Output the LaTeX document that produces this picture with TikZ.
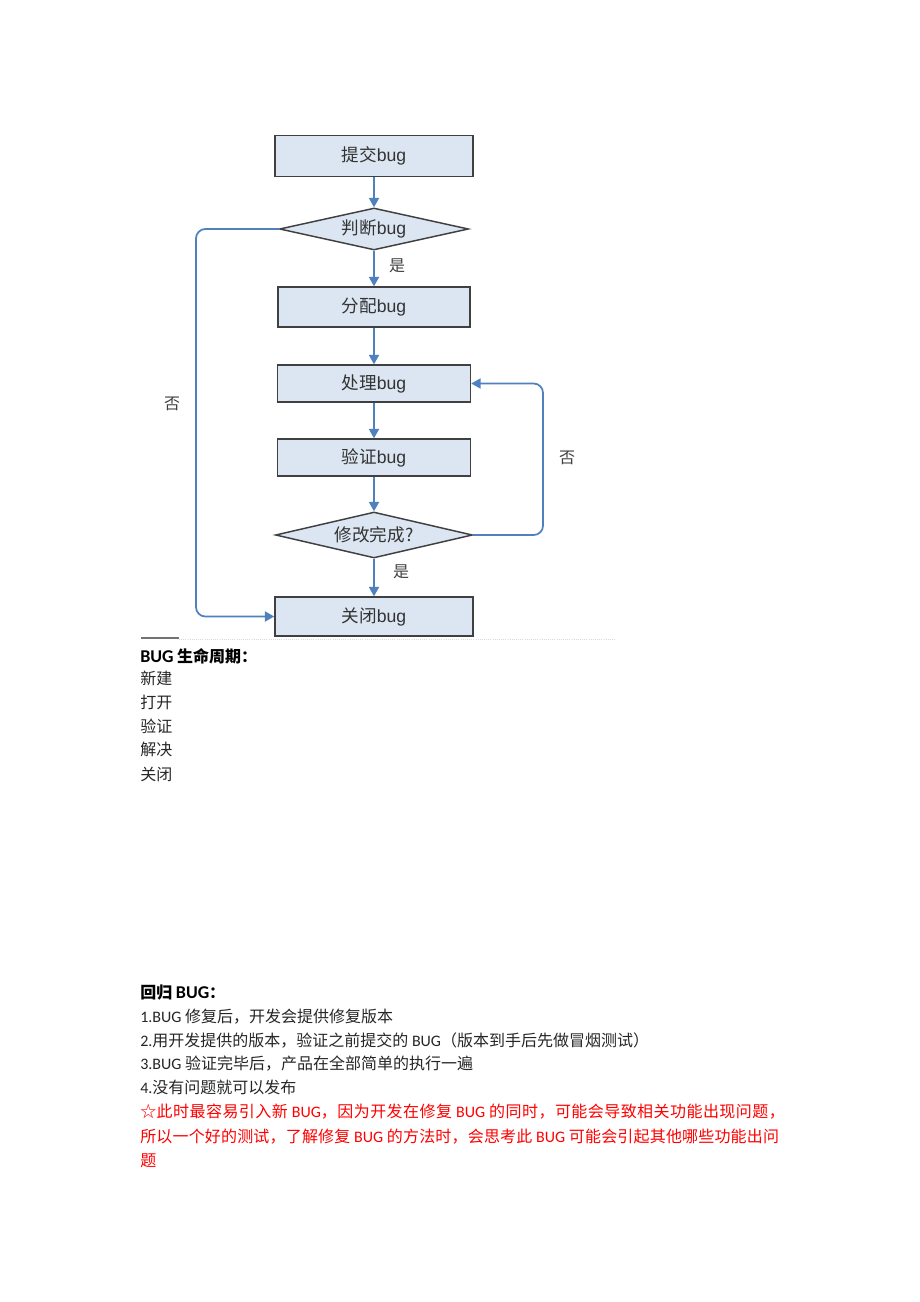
\documentclass[tikz,border=0pt]{standalone}
\usepackage{fontspec}
\setmainfont{Carlito}
\newfontfamily\cjk{Noto Sans CJK SC}
\newfontfamily\arial{Liberation Sans}
\usetikzlibrary{arrows.meta,shapes.geometric}

\definecolor{flowblue}{HTML}{4F81BD}
\definecolor{boxfill}{HTML}{DCE6F2}
\definecolor{boxline}{HTML}{404040}
\definecolor{warnred}{HTML}{FF0000}

\newcommand\lat[1]{{\rmfamily #1}}
\newcommand\bigbug{{\rmfamily\fontsize{13.5}{14}\selectfont BUG}}
\newcommand\bugword{{\arial bug}}

\tikzset{
  stepbox/.style={draw=boxline, line width=1.1pt, fill=boxfill, inner sep=0pt,
    text=black!80, font=\cjk\fontsize{13.2}{15}\selectfont},
  choice/.style={stepbox, diamond, aspect=4.5},
  flow/.style={draw=flowblue, line width=1.3pt, -{Triangle[width=7.5pt,length=7pt]}},
  loopflow/.style={flow, rounded corners=7pt},
  tag/.style={inner sep=0pt, text=black!75, font=\cjk\fontsize{12}{14}\selectfont},
  para/.style={anchor=base west, inner sep=0pt, text=black!85,
    font=\cjk\fontsize{12}{14}\selectfont},
  headline/.style={para, text=black, font=\cjk\bfseries\fontsize{12}{14}\selectfont},
}

\begin{document}
\begin{tikzpicture}[x=0.75pt, y=-0.75pt]
		%%%%% START %%%%%
		\useasboundingbox[fill=white] (0,0) rectangle (920,1302);
		
		% flow chart
		\node[stepbox, minimum width=148.5pt, minimum height=30.75pt] (submit) at (374,156) {提交\bugword};
		\node[choice, minimum width=141.75pt, minimum height=31.5pt] (judge) at (374,229) {判断\bugword};
		\node[stepbox, minimum width=144pt, minimum height=30pt] (assign) at (374,307) {分配\bugword};
		\node[stepbox, minimum width=144.75pt, minimum height=27.75pt] (handle) at (374,383.5) {处理\bugword};
		\node[stepbox, minimum width=144.75pt, minimum height=27.75pt] (verify) at (374,457.5) {验证\bugword};
		\node[choice, minimum width=147.75pt, minimum height=34.5pt] (done) at (374,535) {修改完成?};
		\node[stepbox, minimum width=148.5pt, minimum height=29.25pt] (close) at (374,616.5) {关闭\bugword};
		
		\coordinate (leftrail) at (196,616.5);
		\coordinate (rightrail) at (543,535);
		
		\draw[flow] (submit) -- (judge);
		\draw[flow] (judge) -- (assign);
		\draw[flow] (assign) -- (handle);
		\draw[flow] (handle) -- (verify);
		\draw[flow] (verify) -- (done);
		\draw[flow] (done) -- (close);
		\draw[loopflow] (judge.west) -| (leftrail) -- (close.west);
		\draw[loopflow] (done.east) -- (rightrail) |- (handle.east);
		
		\node[tag] (yes1) at (397,266) {是};
		\node[tag] (yes2) at (401,572) {是};
		\node[tag] (no1) at (172,404) {否};
		\node[tag] (no2) at (567,458) {否};
		
		\draw[black!55, line width=0.8pt] (141,638) -- (179,638);
		\draw[black!15, densely dotted, line width=0.6pt] (179,639.5) -- (615,639.5);
		
		% life cycle
		\node[headline] (life) at (140,662) {\bigbug{} 生命周期：};
		\node[para] (l1) at (140,684) {新建};
		\node[para] (l2) at (140,708) {打开};
		\node[para] (l3) at (140,732) {验证};
		\node[para] (l4) at (140,755) {解决};
		\node[para] (l5) at (140,780) {关闭};
		
		% regression
		\node[headline] (reg) at (140,998) {回归 \bigbug：};
		\node[para] (r1) at (140,1022) {\lat{1.BUG} 修复后，开发会提供修复版本};
		\node[para] (r2) at (140,1046) {\lat{2.}用开发提供的版本，验证之前提交的 \lat{BUG}（版本到手后先做冒烟测试）};
		\node[para] (r3) at (140,1069) {\lat{3.BUG} 验证完毕后，产品在全部简单的执行一遍};
		\node[para] (r4) at (140,1093) {\lat{4.}没有问题就可以发布};
		\node[para, text=warnred] (w1) at (140,1117) {\addfontfeatures{LetterSpace=2.8}☆此时最容易引入新 \lat{BUG}，因为开发在修复 \lat{BUG} 的同时，可能会导致相关功能出现问题，};
		\node[para, text=warnred] (w2) at (140,1142) {\addfontfeatures{LetterSpace=1.1}所以一个好的测试，了解修复 \lat{BUG} 的方法时，会思考此 \lat{BUG} 可能会引起其他哪些功能出问};
		\node[para, text=warnred] (w3) at (140,1166) {题};
		%%%%% END %%%%%
\end{tikzpicture}
\end{document}
